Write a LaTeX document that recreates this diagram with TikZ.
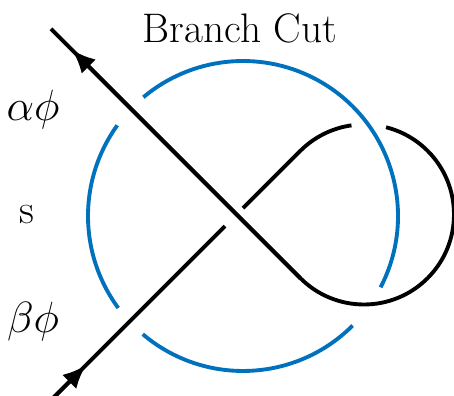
\documentclass[tikz,border=0pt]{standalone}
\usepackage{amsmath}
\usepackage{amssymb}
\usepackage{xcolor}
\usetikzlibrary{arrows.meta}
\definecolor{cutblue}{RGB}{0,114,189}

\begin{document}
\begin{tikzpicture}[strand/.style={line width=2.2pt},
  cut/.style={cutblue,line width=2.2pt},
  lbl/.style={font=\fontsize{23.5}{28}\selectfont,inner sep=0pt},
  tip/.style={-{Latex[length=0.47cm,width=0.4cm]}}]
\useasboundingbox (0,0) rectangle (9.08,7.92);
% centres of the branch cut circle and of the loop
\coordinate (O) at (4.86,3.6);
\coordinate (L) at (7.28,3.63);
% ends of the two strands
\coordinate (s1) at (1.02,7.344);
\coordinate (a1) at (1.44,6.924);
\coordinate (t1) at (6.007,2.357);
\coordinate (s2) at (1.06,-0.044);
\coordinate (a2) at (1.72,0.616);
\coordinate (u1) at (4.50,3.396);
\coordinate (u2) at (4.86,3.756);
% branch cut
\draw[cut] (O) ++(-27.4:3.1) arc[start angle=-27.4,end angle=130,radius=3.1];
\draw[cut] (O) ++(144.2:3.1) arc[start angle=144.2,end angle=216.4,radius=3.1];
\draw[cut] (O) ++(229.7:3.1) arc[start angle=229.7,end angle=315,radius=3.1];
% over strand
\draw[strand] (s1) -- (t1) arc[start angle=225,end angle=435.8,radius=1.8];
\draw[strand,tip] (t1) -- (a1);
% under strand
\draw[strand] (L) ++(98:1.8) arc[start angle=98,end angle=135,radius=1.8] -- (u2);
\draw[strand] (s2) -- (u1);
\draw[strand,tip] (s2) -- (a2);
% labels
\node[lbl] (title) at (4.8,7.36) {Branch Cut};
\node[lbl] (alpha) at (0.66,5.72) {$\alpha\phi$};
\node[lbl] (sheet) at (0.54,3.62) {s};
\node[lbl] (beta) at (0.66,1.48) {$\beta\phi$};
\end{tikzpicture}
\end{document}
